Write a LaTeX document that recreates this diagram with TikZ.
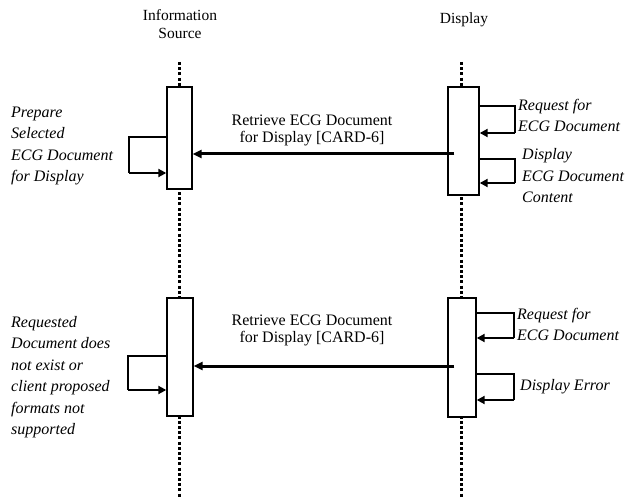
\documentclass[tikz,border=0pt]{standalone}
\usepackage{fontspec}
\setmainfont{Liberation Serif}
\usetikzlibrary{arrows.meta, positioning, calc}
\tikzset{
  act/.style={rectangle, draw, line width=1.4pt, fill=white, inner sep=0pt},
  life/.style={line width=2.8pt, dash pattern=on 3pt off 2.2pt},
  msg/.style={-{Triangle[length=9pt,width=8pt]}, line width=3pt},
  self/.style={line width=1.2pt},
  selfret/.style={-{Triangle[length=8pt,width=8pt]}, line width=2.6pt},
  hdr/.style={font=\fontsize{15.5}{18}\selectfont, align=center},
  lbl/.style={font=\fontsize{16}{17}\selectfont, align=center},
  note/.style={font=\fontsize{16}{21.5}\itshape, align=left, inner sep=0pt}
}
\begin{document}
\begin{tikzpicture}[x=1pt, y=-1pt]
  \useasboundingbox (0,0) rectangle (626,497);

  % lifelines
  \node[hdr] (srchd) at (180,24) {Information\\Source};
  \node[hdr] (dsphd) at (464,20) {Display};
  \coordinate (srctop) at (179.5,62);
  \coordinate (srcbot) at (179.5,497);
  \coordinate (dsptop) at (461.5,62);
  \coordinate (dspbot) at (461.5,497);
  \draw[life] (srctop) -- (srcbot);
  \draw[life] (dsptop) -- (dspbot);

  % activations
  \node[act, minimum width=25pt, minimum height=102pt] (srcA) at (179.5,138) {};
  \node[act, minimum width=31pt, minimum height=108pt] (dspA) at (463.5,141) {};
  \node[act, minimum width=26pt, minimum height=118pt] (srcB) at (180,357) {};
  \node[act, minimum width=28pt, minimum height=119pt] (dspB) at (462,357.5) {};

  % first exchange
  \draw[msg] ([xshift=7pt]dspA.west |- 0,154) -- (srcA.east |- 0,154);
  \node[lbl] (retA) at (312,130) {Retrieve ECG Document\\for Display [CARD-6]};

  \draw[self] (srcA.west |- 0,137) -| (129,173) coordinate (lpA);
  \draw[selfret] (lpA) -- (srcA.west |- lpA);
  \node[note, anchor=west] (prepA) at (11,146) {Prepare\\Selected\\ECG Document\\for Display};

  \draw[self] (dspA.east |- 0,106) -| (515,133) coordinate (rqA);
  \draw[selfret] (rqA) -- (dspA.east |- rqA);
  \node[note, anchor=west] (reqA) at (518,115.5) {Request for\\ECG Document};

  \draw[self] (dspA.east |- 0,159) -| (515,183) coordinate (shA);
  \draw[selfret] (shA) -- (dspA.east |- shA);
  \node[note, anchor=west] (showA) at (522,176) {Display\\ECG Document\\Content};

  % second exchange
  \draw[msg] ([xshift=7pt]dspB.west |- 0,366) -- (srcB.east |- 0,366);
  \node[lbl] (retB) at (312,330) {Retrieve ECG Document\\for Display [CARD-6]};

  \draw[self] (srcB.west |- 0,356) -| (128,390) coordinate (lpB);
  \draw[selfret] (lpB) -- (srcB.west |- lpB);
  \node[note, anchor=west] (failB) at (11,377)
    {Requested\\Document does\\not exist or\\client proposed\\formats not\\supported};

  \draw[self] (dspB.east |- 0,313) -| (514,338) coordinate (rqB);
  \draw[selfret] (rqB) -- (dspB.east |- rqB);
  \node[note, anchor=west] (reqB) at (517,324.5) {Request for\\ECG Document};

  \draw[self] (dspB.east |- 0,374) -| (514,400) coordinate (erB);
  \draw[selfret] (erB) -- (dspB.east |- erB);
  \node[note, anchor=west] (errB) at (520,387) {Display Error};
\end{tikzpicture}
\end{document}
